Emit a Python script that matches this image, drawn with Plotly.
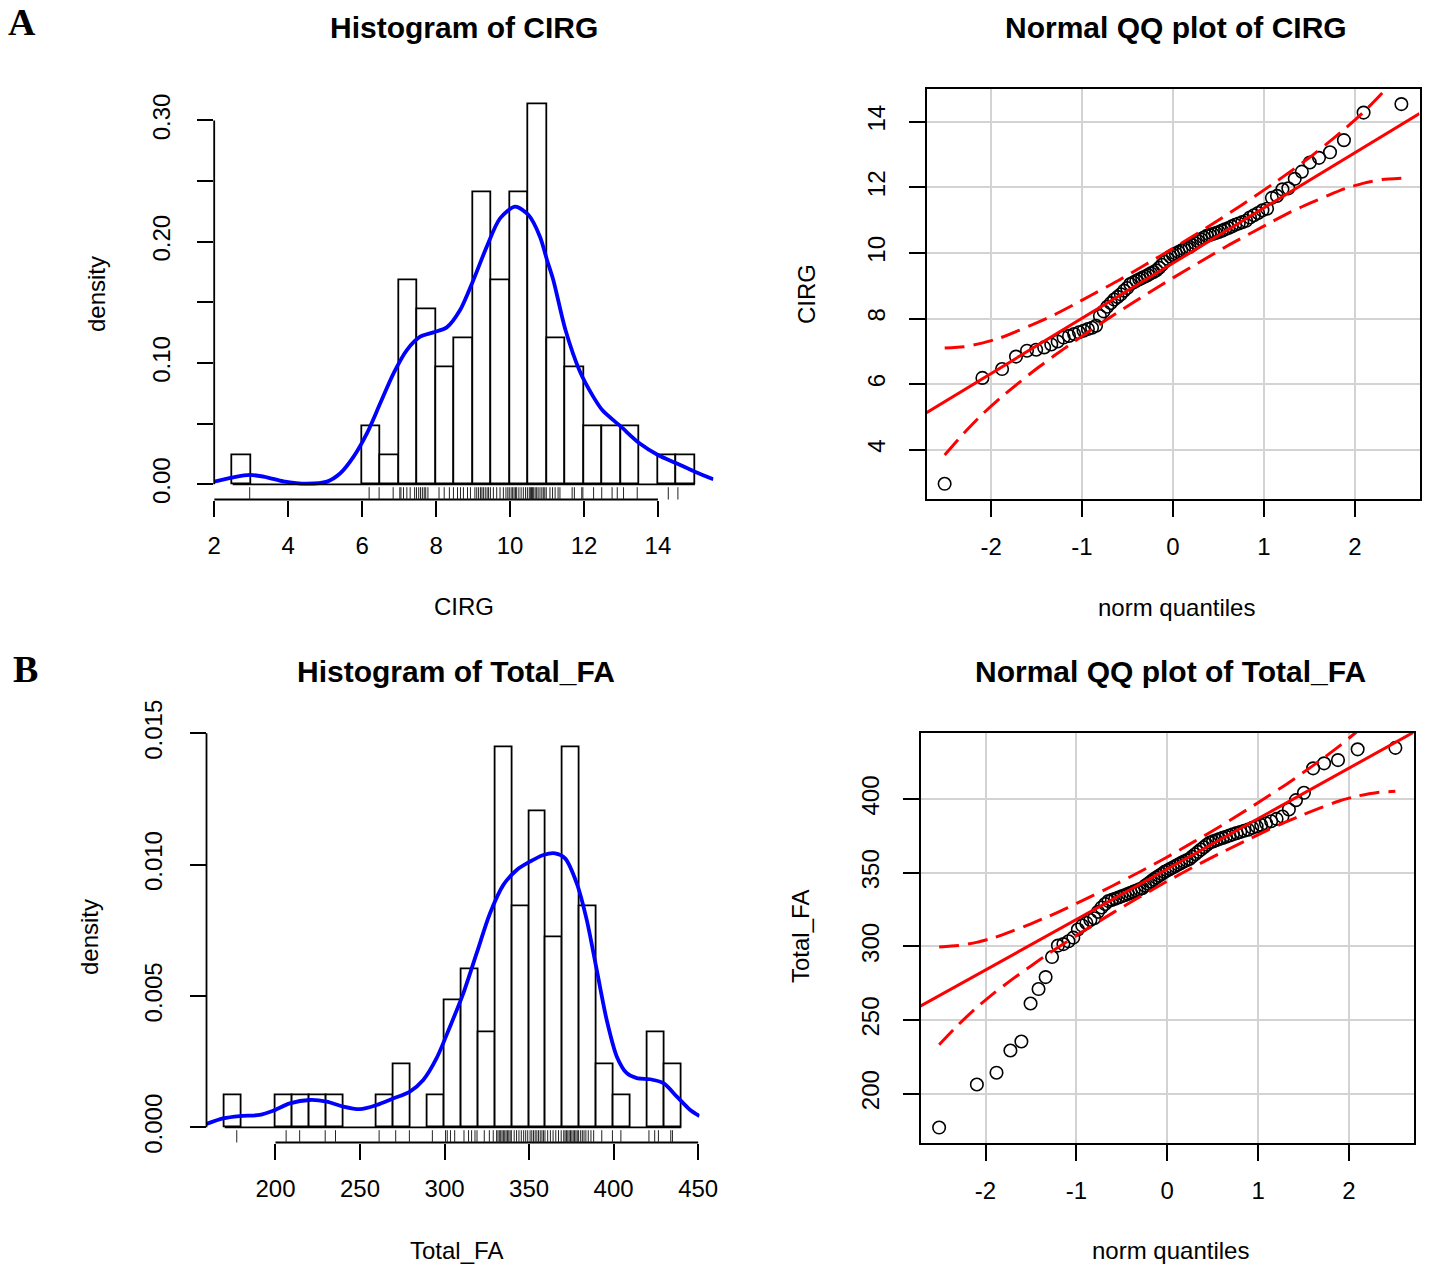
import plotly.graph_objects as go
from statistics import NormalDist

W, H = 1434, 1264

# ---------------- data ----------------
cirg_values = [2.96,
               6.19, 6.46,
               6.84,
               7.02, 7.05, 7.12, 7.21, 7.30, 7.42, 7.47,
               7.53, 7.58, 7.63, 7.68, 7.72, 7.78,
               8.08, 8.22, 8.36, 8.47,
               8.58, 8.66, 8.74, 8.85, 8.93,
               9.05, 9.10, 9.15, 9.20, 9.24, 9.28, 9.33, 9.38, 9.42, 9.47,
               9.55, 9.64, 9.73, 9.82, 9.89, 9.94, 9.98,
               10.03, 10.07, 10.11, 10.15, 10.18, 10.24, 10.30, 10.36, 10.42, 10.47,
               10.52, 10.55, 10.58, 10.61, 10.64, 10.68, 10.72, 10.76, 10.81, 10.86, 10.90, 10.94, 10.98,
               11.08, 11.15, 11.22, 11.30, 11.35,
               11.68, 11.74, 11.94, 11.97,
               12.26, 12.48,
               12.76, 12.90,
               13.07, 13.44,
               14.28, 14.54]

totalfa_values = [177.1,
                  206.3, 214.3, 229.4, 235.5,
                  261.3,
                  271.1, 279.2,
                  292.8,
                  300.6, 301.6, 303.5, 306.0,
                  311.5, 314.2, 316.0, 318.0, 319.2,
                  323.5, 326.5, 328.8,
                  330.8, 331.6, 332.4, 333.2, 334.0, 334.8, 335.6, 336.4, 337.2, 338.0, 338.8, 339.5,
                  341.2, 342.6, 344.0, 345.4, 346.8, 348.0, 349.2,
                  350.6, 351.6, 352.6, 353.6, 354.6, 355.6, 356.6, 357.6, 358.5, 359.4,
                  361.0, 362.6, 364.2, 365.8, 367.4, 369.0,
                  370.5, 371.3, 372.1, 372.9, 373.7, 374.5, 375.3, 376.1, 376.9, 377.7, 378.5, 379.3,
                  380.5, 381.5, 382.5, 383.6, 385.0, 386.6, 388.2,
                  393.0, 399.3,
                  404.3,
                  420.9, 424.3, 426.5,
                  433.8, 434.8]

# histogram bins
cirg_bin_start, cirg_bin_end, cirg_bin_size = 2.5, 15.0, 0.5
totalfa_bin_start, totalfa_bin_end, totalfa_bin_size = 170, 440, 10

# kernel density curves
cirg_density_x = [2.0, 2.52, 2.97, 3.42, 3.87, 4.50, 5.05, 5.41, 5.77, 6.13, 6.49, 6.85, 7.21, 7.57,
                  7.93, 8.29, 8.65, 9.01, 9.37, 9.73, 10.14, 10.50, 10.81, 11.0, 11.17, 11.5, 11.89,
                  12.25, 12.5, 13.0, 13.5, 14.0, 14.5, 15.0, 15.5]
cirg_density_y = [0.0022, 0.0058, 0.0077, 0.0058, 0.0025, 0.0005, 0.0022, 0.0091, 0.0228, 0.0420,
                  0.0668, 0.0915, 0.1107, 0.1217, 0.1253, 0.1294, 0.1437, 0.1685, 0.1959, 0.2193,
                  0.2289, 0.2220, 0.2042, 0.1850, 0.1685, 0.1272, 0.0930, 0.0723, 0.0610, 0.0475,
                  0.0338, 0.0242, 0.0173, 0.0104, 0.0041]

totalfa_density_x = [159.2, 169.0, 178.9, 190.7, 198.6, 208.5, 220.3, 230.2, 240.0, 249.9, 259.8,
                     269.6, 279.5, 287.4, 295.3, 303.2, 311.1, 319.0, 326.9, 334.8, 342.7, 350.6,
                     358.5, 365.4, 371.3, 378.2, 384.1, 390.0, 395.9, 401.9, 407.8, 413.7, 421.6,
                     429.5, 437.4, 445.3, 450.8]
totalfa_density_y = [0.00013, 0.00034, 0.00043, 0.00047, 0.00063, 0.00091, 0.00104, 0.00098, 0.00079,
                     0.00069, 0.00085, 0.00110, 0.00136, 0.00180, 0.00263, 0.00383, 0.00510, 0.00663,
                     0.00815, 0.00923, 0.00980, 0.01012, 0.01037, 0.01043, 0.01024, 0.00929, 0.00790,
                     0.00600, 0.00409, 0.00269, 0.00206, 0.00187, 0.00183, 0.00168, 0.00117, 0.00066,
                     0.00043]

# QQ reference lines and confidence envelopes
band_q = [-2.51, -2.3, -2.1, -1.9, -1.7, -1.5, -1.3, -1.1, -0.9, -0.6, -0.3, 0.0,
          0.3, 0.6, 0.9, 1.1, 1.3, 1.5, 1.7, 1.9, 2.1, 2.3, 2.51]
cirg_band_upper = [7.10, 7.14, 7.25, 7.41, 7.63, 7.87, 8.12, 8.41, 8.71, 9.16, 9.65, 10.14,
                   10.65, 11.18, 11.73, 12.11, 12.50, 12.91, 13.35, 13.81, 14.31, 14.88, 15.54]
cirg_band_lower = [3.84, 4.50, 5.07, 5.57, 6.03, 6.47, 6.88, 7.27, 7.65, 8.20, 8.73, 9.24,
                   9.73, 10.22, 10.67, 10.97, 11.26, 11.51, 11.75, 11.97, 12.13, 12.24, 12.28]
totalfa_band_upper = [299.7, 300.6, 302.8, 306.1, 310.6, 315.4, 320.6, 326.2, 332.1, 341.2, 350.7, 360.7,
                      371.3, 382.2, 393.7, 401.6, 409.6, 418.2, 427.0, 436.3, 446.6, 458.2, 471.7]
totalfa_band_lower = [233.3, 246.8, 258.4, 268.7, 278.0, 286.8, 295.4, 303.4, 311.3, 322.8, 333.7, 344.3,
                      354.3, 363.8, 372.9, 378.8, 384.4, 389.6, 394.4, 398.9, 402.2, 404.4, 405.3]
cirg_line_x = [-2.71, 2.71]
cirg_line_y = [5.13, 14.25]
totalfa_line_x = [-2.72, 2.72]
totalfa_line_y = [259.4, 445.7]

# axis ticks
cirg_hist_xticks = [2, 4, 6, 8, 10, 12, 14]
cirg_hist_yticks = [0.0, 0.05, 0.10, 0.15, 0.20, 0.25, 0.30]
cirg_hist_ytext = ["0.00", "", "0.10", "", "0.20", "", "0.30"]
totalfa_hist_xticks = [200, 250, 300, 350, 400, 450]
totalfa_hist_yticks = [0.0, 0.005, 0.010, 0.015]
totalfa_hist_ytext = ["0.000", "0.005", "0.010", "0.015"]
qq_xticks = [-2, -1, 0, 1, 2]
qq_xtext = ["-2", "-1", "0", "1", "2"]
cirg_qq_yticks = [4, 6, 8, 10, 12, 14]
totalfa_qq_yticks = [200, 250, 300, 350, 400]

# ---------------- helpers ----------------
FONT = "Liberation Sans, Arial, Helvetica, sans-serif"


def dom_x(a, b):
    return [a / W, b / W]


def dom_y(top, bottom):
    return [1 - bottom / H, 1 - top / H]


def theo_quantiles(values):
    n = len(values)
    nd = NormalDist()
    return [nd.inv_cdf((i - 0.5) / n) for i in range(1, n + 1)]


fig = go.Figure()

# ---- histograms ----
for vals, (s, e, z), dx, dy, xa, ya in [
    (cirg_values, (cirg_bin_start, cirg_bin_end, cirg_bin_size), cirg_density_x, cirg_density_y, "x", "y"),
    (totalfa_values, (totalfa_bin_start, totalfa_bin_end, totalfa_bin_size), totalfa_density_x,
     totalfa_density_y, "x3", "y3"),
]:
    fig.add_trace(go.Histogram(
        x=vals, xbins=dict(start=s, end=e, size=z), autobinx=False,
        histnorm="probability density",
        marker=dict(color="white", line=dict(color="black", width=1.8)),
        xaxis=xa, yaxis=ya, showlegend=False, hoverinfo="skip"))
    fig.add_trace(go.Scatter(
        x=dx, y=dy, mode="lines", line=dict(color="#0000ff", width=3.8, shape="spline", smoothing=0.8),
        xaxis=xa, yaxis=ya, showlegend=False, hoverinfo="skip"))

# ---- QQ plots ----
for vals, lx, ly, up, lo, xa, ya in [
    (cirg_values, cirg_line_x, cirg_line_y, cirg_band_upper, cirg_band_lower, "x2", "y2"),
    (totalfa_values, totalfa_line_x, totalfa_line_y, totalfa_band_upper, totalfa_band_lower, "x4", "y4"),
]:
    fig.add_trace(go.Scatter(
        x=theo_quantiles(vals), y=sorted(vals), mode="markers",
        marker=dict(symbol="circle-open", size=12.5, color="black", line=dict(width=1.6)),
        xaxis=xa, yaxis=ya, showlegend=False, cliponaxis=False, hoverinfo="skip"))
    fig.add_trace(go.Scatter(
        x=lx, y=ly, mode="lines", line=dict(color="#ff0000", width=3),
        xaxis=xa, yaxis=ya, showlegend=False, hoverinfo="skip"))
    for band in (up, lo):
        fig.add_trace(go.Scatter(
            x=band_q, y=band, mode="lines",
            line=dict(color="#ff0000", width=3, dash="20px,9px", shape="spline", smoothing=0.6),
            xaxis=xa, yaxis=ya, showlegend=False, hoverinfo="skip"))

# ---- shapes: R-style axis lines, zero-bin baselines, rugs ----
shapes = []
for xref, yref, xt, yt, bs, be, vals in [
    ("x", "y", cirg_hist_xticks, cirg_hist_yticks, cirg_bin_start, cirg_bin_end, cirg_values),
    ("x3", "y3", totalfa_hist_xticks, totalfa_hist_yticks, totalfa_bin_start, totalfa_bin_end, totalfa_values),
]:
    shapes.append(dict(type="line", xref=xref, yref=yref + " domain", x0=min(xt), x1=max(xt), y0=0, y1=0,
                       line=dict(color="black", width=1.8)))
    shapes.append(dict(type="line", xref=xref + " domain", yref=yref, x0=0, x1=0, y0=min(yt), y1=max(yt),
                       line=dict(color="black", width=1.8)))
    shapes.append(dict(type="line", xref=xref, yref=yref, x0=bs, x1=be, y0=0, y1=0,
                       line=dict(color="black", width=1.8)))
    for v in vals:
        shapes.append(dict(type="line", xref=xref, yref=yref + " domain", x0=v, x1=v, y0=0, y1=0.03,
                           line=dict(color="#222222", width=1)))

tickfont = dict(family=FONT, size=24, color="black")
base_axis = dict(ticks="outside", ticklen=16, tickwidth=1.8, tickcolor="black", tickfont=tickfont,
                 zeroline=False, showgrid=False, fixedrange=True)
qq_axis = dict(base_axis, showline=True, mirror=True, linecolor="black", linewidth=2,
               showgrid=True, gridcolor="#d3d3d3", gridwidth=2)

layout = dict(
    width=W, height=H, margin=dict(l=0, r=0, t=0, b=0, autoexpand=False),
    paper_bgcolor="white", plot_bgcolor="white", bargap=0, showlegend=False,
    shapes=shapes,
    # Panel A histogram
    xaxis=dict(base_axis, domain=dom_x(214.2, 713.4), range=[2.0, 15.5], tickvals=cirg_hist_xticks,
               anchor="y", ticklabelstandoff=9),
    yaxis=dict(base_axis, domain=dom_y(89.2, 499.5), range=[-0.01253, 0.3258], tickvals=cirg_hist_yticks,
               ticktext=cirg_hist_ytext, tickangle=-90, anchor="x", ticklabelstandoff=18),
    # Panel A QQ
    xaxis2=dict(qq_axis, domain=dom_x(926.5, 1419.5), range=[-2.71, 2.71], tickvals=qq_xticks,
                ticktext=qq_xtext, anchor="y2", ticklabelstandoff=9),
    yaxis2=dict(qq_axis, domain=dom_y(89.0, 499.0), range=[2.497, 15.0], tickvals=cirg_qq_yticks,
                tickangle=-90, anchor="x2", ticklabelstandoff=14),
    # Panel B histogram
    xaxis3=dict(base_axis, domain=dom_x(206.5, 699.5), range=[159.2, 450.8], tickvals=totalfa_hist_xticks,
                anchor="y3", ticklabelstandoff=9),
    yaxis3=dict(base_axis, domain=dom_y(732.3, 1142.5), range=[-0.000578, 0.01504],
                tickvals=totalfa_hist_yticks, ticktext=totalfa_hist_ytext, tickangle=-90, anchor="x3",
                ticklabelstandoff=18),
    # Panel B QQ
    xaxis4=dict(qq_axis, domain=dom_x(921.0, 1413.5), range=[-2.71, 2.71], tickvals=qq_xticks,
                ticktext=qq_xtext, anchor="y4", ticklabelstandoff=9),
    yaxis4=dict(qq_axis, domain=dom_y(732.7, 1142.7), range=[166.8, 445.1], tickvals=totalfa_qq_yticks,
                tickangle=-90, anchor="x4", ticklabelstandoff=14),
)
fig.update_layout(**layout)

# ---- text ----
def ann(text, x, y, size=24, bold=False, angle=0, family=FONT):
    return dict(text=f"<b>{text}</b>" if bold else text, x=x / W, y=1 - y / H, xref="paper", yref="paper",
                xanchor="center", yanchor="middle", showarrow=False, textangle=angle,
                font=dict(family=family, size=size, color="black"))


annotations = [
    ann("A", 22, 22, size=38, bold=True, family="Liberation Serif, Times New Roman, serif"),
    ann("B", 26, 669, size=38, bold=True, family="Liberation Serif, Times New Roman, serif"),
    ann("Histogram of CIRG", 463.8, 27, size=30, bold=True),
    ann("Normal QQ plot of CIRG", 1176, 27, size=30, bold=True),
    ann("Histogram of Total_FA", 456, 671, size=30, bold=True),
    ann("Normal QQ plot of Total_FA", 1170, 671, size=30, bold=True),
    ann("density", 96, 294, angle=-90),
    ann("CIRG", 463.8, 606),
    ann("norm quantiles", 1176, 607),
    ann("CIRG", 806, 294, angle=-90),
    ann("density", 90, 937, angle=-90),
    ann("Total_FA", 456, 1250),
    ann("norm quantiles", 1170, 1250),
    ann("Total_FA", 801, 937, angle=-90),
]
fig.update_layout(annotations=annotations)

fig.write_html("out.html")
